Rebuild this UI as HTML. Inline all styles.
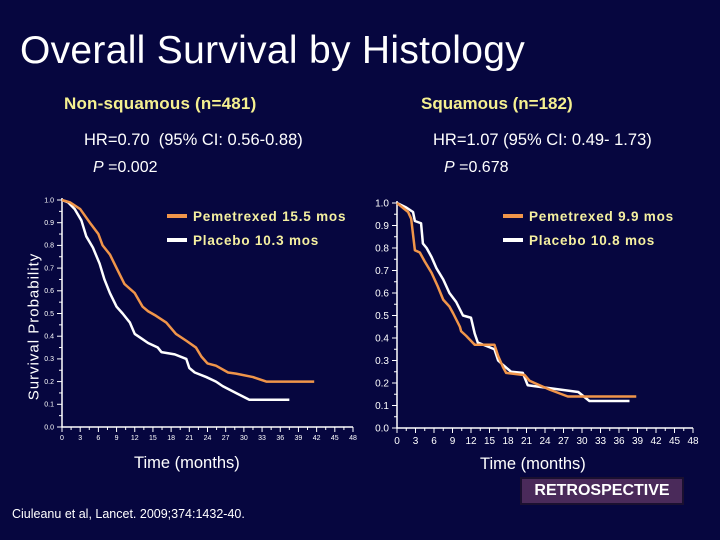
<!DOCTYPE html>
<html><head><meta charset="utf-8"><style>
body{margin:0;background:#06063f;width:720px;height:540px;overflow:hidden;font-family:"Liberation Sans",sans-serif;}
.t{position:absolute;white-space:nowrap;}
</style></head><body>
<div class="t" style="left:20px;top:29px;font-size:39px;color:#fff;letter-spacing:0.3px;">Overall Survival by Histology</div>
<div class="t" style="left:64px;top:94px;font-size:17px;font-weight:bold;color:#f5f090;letter-spacing:0.2px;">Non-squamous (n=481)</div>
<div class="t" style="left:421px;top:94px;font-size:17px;font-weight:bold;color:#f5f090;">Squamous (n=182)</div>
<div class="t" style="left:84px;top:131px;font-size:16.5px;color:#fff;">HR=0.70&nbsp; (95% CI: 0.56-0.88)</div>
<div class="t" style="left:433px;top:131px;font-size:16.5px;color:#fff;">HR=1.07 (95% CI: 0.49- 1.73)</div>
<div class="t" style="left:93px;top:159px;font-size:16px;color:#fff;"><i>P</i> =0.002</div>
<div class="t" style="left:444px;top:159px;font-size:16px;color:#fff;"><i>P</i> =0.678</div>
<div class="t" style="left:-40px;top:318px;font-size:15px;color:#fff;transform:rotate(-90deg);letter-spacing:1px;">Survival Probability</div>
<div class="t" style="left:134px;top:454px;font-size:16.5px;color:#fff;">Time (months)</div>
<div class="t" style="left:480px;top:455px;font-size:16.5px;color:#fff;">Time (months)</div>
<div class="t" style="left:520px;top:477px;width:160px;height:24px;background:#4a2a5a;border:2px solid #1a1030;color:#fff;font-weight:bold;font-size:16px;text-align:center;line-height:24px;">RETROSPECTIVE</div>
<div class="t" style="left:12px;top:507px;font-size:12.5px;color:#fff;">Ciuleanu et al, Lancet. 2009;374:1432-40.</div>
<svg id="svg" width="720" height="540" style="position:absolute;left:0;top:0"></svg>
<script>
const xTicks=[0,3,6,9,12,15,18,21,24,27,30,33,36,39,42,45,48];
const yTicks=[0,0.1,0.2,0.3,0.4,0.5,0.6,0.7,0.8,0.9,1.0];
const lPemT=[0,1.3,3,4.6,6,6.7,7.9,9,10.3,12,13.3,14.2,15.5,17.2,18.8,20.5,22.1,23,24,25.4,27.4,28.7,31.5,33.7,41.6];
const lPemS=[1,0.99,0.96,0.9,0.85,0.8,0.76,0.7,0.63,0.59,0.53,0.51,0.49,0.46,0.41,0.38,0.35,0.31,0.28,0.27,0.24,0.235,0.22,0.2,0.2];
const lPlaT=[0,1,2.1,3.2,4,5.1,6.2,7,7.9,9,10,11.2,12,13.1,14.2,15.8,16.4,18.6,20.5,21,21.9,23.8,25.4,26.5,28.7,30.9,37.5];
const lPlaS=[1,0.99,0.96,0.91,0.84,0.79,0.72,0.65,0.59,0.53,0.5,0.46,0.41,0.39,0.37,0.35,0.33,0.32,0.3,0.26,0.24,0.22,0.2,0.18,0.15,0.12,0.12];
const rPemT=[0,1.8,2.3,2.9,3.7,4.5,5.6,6.6,7.5,8.5,9.1,10.2,10.4,11.2,12.6,15.8,16.4,17.2,17.7,20.7,21.5,22.3,24.8,27.7,38.8];
const rPemS=[1,0.96,0.93,0.79,0.78,0.74,0.69,0.63,0.57,0.54,0.51,0.45,0.43,0.41,0.37,0.37,0.32,0.27,0.245,0.235,0.21,0.2,0.17,0.14,0.14];
const rPlaT=[0,1.5,2.6,2.9,3.9,4.2,4.8,5.6,6.4,7.5,8.5,9.6,10.7,12,12.6,13.1,15.8,16.4,17.2,18.5,20.4,21.2,29.4,31.2,37.7];
const rPlaS=[1,0.98,0.96,0.92,0.91,0.82,0.8,0.76,0.71,0.66,0.6,0.56,0.5,0.49,0.42,0.38,0.35,0.3,0.28,0.25,0.245,0.19,0.16,0.12,0.12];
const NS='http://www.w3.org/2000/svg';
const svg=document.getElementById('svg');
function mk(tag,attrs,parent){const e=document.createElementNS(NS,tag);for(const k in attrs)e.setAttribute(k,attrs[k]);(parent||svg).appendChild(e);return e;}
function chart(x0,x1,y0,y1,fs,prefix,series,legend){
  const sx=t=>x0+(x1-x0)*t/48, sy=v=>y0-(y0-y1)*v;
  const g=mk('g',{});
  
  
  const ax=mk('path',{d:`M${x0},${y1-2}V${y0}H${x1}`,stroke:'#fff','stroke-width':1.5,fill:'none'},g);
  
  
  for(let t=0;t<=48;t+=1.5){mk('line',{x1:sx(t),x2:sx(t),y1:y0,y2:y0+(t%3==0?5:3),stroke:'#fff','stroke-width':1},g);}
  for(let v=0;v<=1.001;v+=0.05){mk('line',{x1:x0-(Math.round(v*20)%2==0?5:3),x2:x0,y1:sy(v),y2:sy(v),stroke:'#fff','stroke-width':1},g);}
  xTicks.forEach(t=>{const e=mk('text',{x:sx(t),y:y0+fs+6,fill:'#fff','font-size':fs,'text-anchor':'middle'},g);e.textContent=t;
    
    });
  yTicks.forEach(v=>{const e=mk('text',{x:x0-8,y:sy(v)+fs/3,fill:'#fff','font-size':fs,'text-anchor':'end'},g);e.textContent=v.toFixed(1);
    
    });
  series.forEach(s=>{let d=`M${sx(s.t[0])},${sy(s.s[0])}`;
    for(let i=1;i<s.t.length;i++){d+=`L${sx(s.t[i])},${sy(s.s[i])}`;}
    const p=mk('path',{d,stroke:s.c,'stroke-width':2.5,fill:'none','stroke-linejoin':'round'},g);
    
    });
  legend.forEach((l,i)=>{const y=216+i*24;
    mk('line',{x1:l.x,x2:l.x+20,y1:y,y2:y,stroke:l.c,'stroke-width':4},g);
    const e=mk('text',{x:l.x+26,y:y+5,fill:'#f5f0a0','font-size':13.5,'font-weight':'bold','letter-spacing':'0.8'},g);e.textContent=l.txt;
    
    });
}
chart(62,353,427,200,7,'nonsquamous',[
 {t:lPlaT,s:lPlaS,c:'#ffffff',name:'placebo-curve-left'},
 {t:lPemT,s:lPemS,c:'#f0954a',name:'pemetrexed-curve-left'}],
 [{x:167,c:'#f0954a',txt:'Pemetrexed 15.5 mos'},{x:167,c:'#fff',txt:'Placebo 10.3 mos'}]);
chart(397,693,428,203,10,'squamous',[
 {t:rPlaT,s:rPlaS,c:'#ffffff',name:'placebo-curve-right'},
 {t:rPemT,s:rPemS,c:'#f0954a',name:'pemetrexed-curve-right'}],
 [{x:503,c:'#f0954a',txt:'Pemetrexed 9.9 mos'},{x:503,c:'#fff',txt:'Placebo 10.8 mos'}]);
</script>
</body></html>
